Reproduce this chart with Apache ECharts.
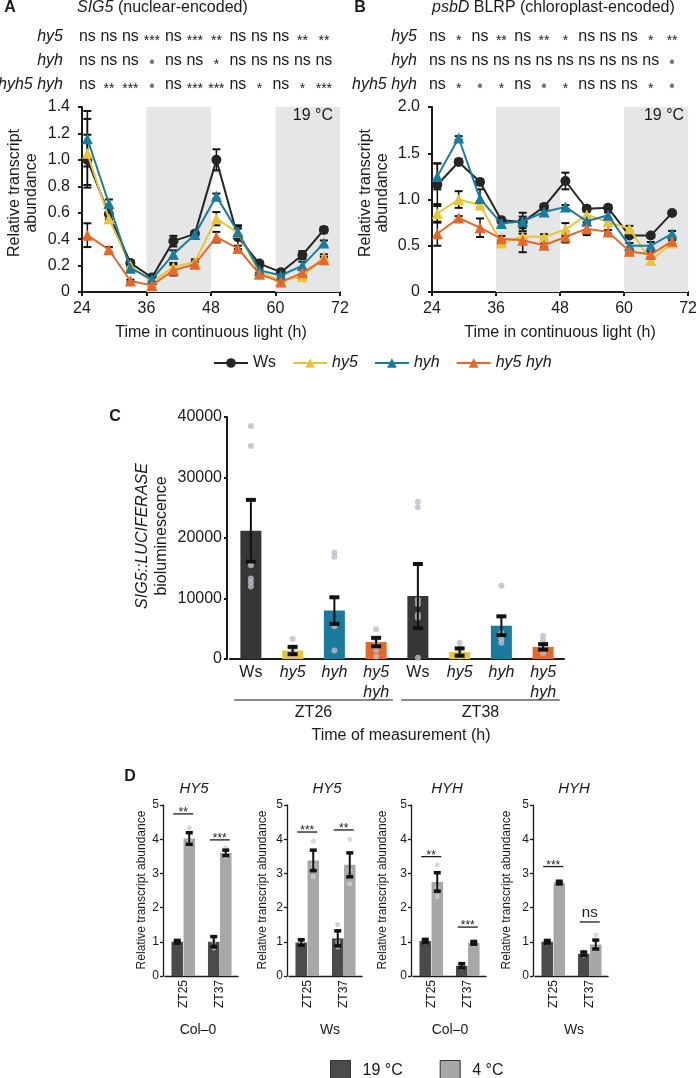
<!DOCTYPE html>
<html><head><meta charset="utf-8">
<script src="https://cdn.jsdelivr.net/npm/echarts@6/dist/echarts.min.js"></script>
<style>html,body{margin:0;padding:0;background:#fff}#c{width:700px;height:1078px}</style>
</head><body><div id="c"></div>
<script>
const FONT = '"Liberation Sans", Arial, Helvetica, sans-serif';
const INK = '#1a1a1a';

// ---------- Panels A & B ----------
const hoursAB = [25, 29, 33, 37, 41, 45, 49, 53, 57, 61, 65, 69];
const darkPeriods = [[36, 48], [60, 72]];
const genotypes = ['Ws', 'hy5', 'hyh', 'hy5 hyh'];

const sig5Ws     = [1.0, 0.59, 0.22, 0.11, 0.385, 0.44, 1.0, 0.415, 0.215, 0.15, 0.28, 0.47];
const sig5WsErr  = [0.19, 0.04, 0.02, 0.02, 0.04, 0.02, 0.08, 0.09, 0.02, 0.02, 0.03, 0.02];
const sig5Hy5    = [1.05, 0.555, 0.2, 0.075, 0.19, 0.227, 0.555, 0.45, 0.15, 0.09, 0.115, 0.265];
const sig5Hy5Err = [0.26, 0.03, 0.02, 0.02, 0.03, 0.02, 0.05, 0.03, 0.02, 0.02, 0.02, 0.02];
const sig5Hyh    = [1.16, 0.67, 0.18, 0.095, 0.285, 0.435, 0.725, 0.455, 0.165, 0.125, 0.2, 0.37];
const sig5HyhErr = [0.21, 0.03, 0.02, 0.02, 0.03, 0.02, 0.02, 0.04, 0.02, 0.02, 0.03, 0.02];
const sig5Dbl    = [0.43, 0.32, 0.083, 0.05, 0.165, 0.21, 0.415, 0.33, 0.135, 0.075, 0.145, 0.245];
const sig5DblErr = [0.09, 0.02, 0.01, 0.01, 0.04, 0.02, 0.04, 0.02, 0.01, 0.01, 0.02, 0.02];

const psbWs     = [1.16, 1.405, 1.19, 0.775, 0.757, 0.92, 1.2, 0.9, 0.91, 0.61, 0.61, 0.855];
const psbWsErr  = [0.23, 0.03, 0.03, 0.03, 0.1, 0.03, 0.09, 0.03, 0.03, 0.02, 0.02, 0.02];
const psbHy5    = [0.85, 1.0, 0.94, 0.53, 0.6, 0.595, 0.675, 0.835, 0.757, 0.685, 0.34, 0.53];
const psbHy5Err = [0.1, 0.09, 0.04, 0.03, 0.03, 0.03, 0.07, 0.04, 0.03, 0.03, 0.04, 0.03];
const psbHyh    = [1.25, 1.665, 1.01, 0.74, 0.765, 0.865, 0.92, 0.765, 0.83, 0.5, 0.5, 0.63];
const psbHyhErr = [0.14, 0.02, 0.1, 0.04, 0.05, 0.03, 0.02, 0.03, 0.03, 0.03, 0.04, 0.03];
const psbDbl    = [0.63, 0.8, 0.695, 0.575, 0.56, 0.505, 0.595, 0.685, 0.65, 0.44, 0.405, 0.55];
const psbDblErr = [0.13, 0.02, 0.1, 0.03, 0.13, 0.02, 0.06, 0.07, 0.02, 0.02, 0.03, 0.03];

const statsA_hy5 = ['ns','ns','ns','***','ns','***','**','ns','ns','ns','**','**'];
const statsA_hyh = ['ns','ns','ns','*','ns','ns','*','ns','ns','ns','ns','ns'];
const statsA_dbl = ['ns','**','***','*','ns','***','***','ns','*','ns','*','***'];
const statsB_hy5 = ['ns','*','ns','**','ns','**','*','ns','ns','ns','*','**'];
const statsB_hyh = ['ns','ns','ns','ns','ns','ns','ns','ns','ns','ns','ns','*'];
const statsB_dbl = ['ns','*','*','*','ns','*','*','ns','ns','ns','*','*'];
const statRowLabels = ['hy5', 'hyh', 'hyh5 hyh'];

// ---------- Panel C ----------
const catsC = ['Ws', 'hy5', 'hyh', 'hy5 hyh', 'Ws', 'hy5', 'hyh', 'hy5 hyh'];
const lucMean = [21200, 1400, 8000, 2800, 10400, 1150, 5500, 2000];
const lucErr  = [5100, 600, 2200, 700, 5300, 600, 1550, 450];
const lucPoints = [
  [38500, 35200, 16000, 15500, 13300, 12700, 12000],
  [3300, 1900, 1500, 900, 600],
  [17600, 16900, 5400, 1400],
  [4900, 3300, 2500, 1500, 400],
  [26000, 25100, 9800, 9100, 7300, 6800, 200],
  [2700, 1800, 900, 400],
  [12100, 4300, 4000, 3300, 2700],
  [3850, 3100, 2500, 1800, 1000]
];
const timeGroupsC = ['ZT26', 'ZT38'];

// ---------- Panel D ----------
const dGenes = ['HY5', 'HY5', 'HYH', 'HYH'];
const dBackgrounds = ['Col–0', 'Ws', 'Col–0', 'Ws'];
const dTimes = ['ZT25', 'ZT37'];
const d19Mean = [[1.0, 1.0], [0.98, 1.1], [1.02, 0.3], [1.0, 0.65]];
const d19Err  = [[0.04, 0.15], [0.08, 0.22], [0.05, 0.06], [0.04, 0.05]];
const d4Mean  = [[4.02, 3.6], [3.38, 3.25], [2.75, 0.97], [2.73, 0.92]];
const d4Err   = [[0.17, 0.08], [0.3, 0.35], [0.27, 0.04], [0.04, 0.13]];
const d19Pts = [[[1.03, 1.0, 0.98], [1.15, 1.0, 0.82]], [[1.05, 0.95, 0.92], [1.5, 1.0, 0.85]],
                [[1.05, 1.0, 0.98], [0.35, 0.28, 0.25]], [[1.02, 0.98, 0.97], [0.7, 0.62, 0.6]]];
const d4Pts  = [[[4.33, 3.95, 3.85], [3.75, 3.55, 3.5]], [[3.95, 3.25, 2.9], [4.0, 3.1, 2.7]],
                [[3.25, 2.6, 2.32], [1.0, 0.97, 0.93]], [[2.76, 2.72, 2.7], [1.2, 0.85, 0.8]]];
const dSigText  = [['**', '***'], ['***', '**'], ['**', '***'], ['***', 'ns']];
const dSigLevel = [[4.74, 3.98], [4.21, 4.27], [3.49, 1.43], [3.2, 1.58]];
const tempNames = ['19 °C', '4 °C'];

// ---------- styling ----------
const colWs = '#262626', colHy5 = '#e9c53e', colHyh = '#1b7b9e', colDbl = '#e2692b';
const genoColors = [colWs, colHy5, colHyh, colDbl];
const genoSymbols = ['circle', 'triangle', 'triangle', 'triangle'];
const col19 = '#4b4b4b', col4 = '#a7a7a7';

const chart = echarts.init(document.getElementById('c'), null, {renderer: 'canvas'});

const grids = [
  {left: 82, top: 107, width: 258, height: 185},
  {left: 432, top: 107, width: 260, height: 185},
  {left: 230, top: 417, width: 334, height: 242}
];
const dAxisX = [163, 287, 411, 533];
dAxisX.forEach(x => grids.push({left: x + 2, top: 805, width: 73, height: 171}));

function axisCommon(lw, size) {
  return {
    axisLine: {show: true, lineStyle: {color: INK, width: lw}},
    axisTick: {show: true, length: 4, lineStyle: {color: INK, width: lw}},
    splitLine: {show: false},
    axisLabel: {color: INK, fontSize: size, fontFamily: FONT}
  };
}
const xAxes = [], yAxes = [];
[0, 1].forEach(g => {
  const xa = axisCommon(2, 16);
  Object.assign(xa, {type: 'value', gridIndex: g, min: 24, max: 72, interval: 12,
    name: 'Time in continuous light (h)', nameLocation: 'middle', nameGap: 33,
    nameTextStyle: {color: INK, fontSize: 16, fontFamily: FONT}});
  xa.axisLabel.margin = 9;
  xAxes.push(xa);
  const ya = axisCommon(2, 16);
  Object.assign(ya, {type: 'value', gridIndex: g, min: 0, max: g === 0 ? 1.4 : 2.0, interval: g === 0 ? 0.2 : 0.5});
  ya.axisLabel.margin = 12;
  ya.axisLabel.formatter = v => (Math.abs(v) < 1e-9 ? '0' : v.toFixed(1));
  yAxes.push(ya);
});
// C
(function () {
  const xa = axisCommon(2, 16);
  Object.assign(xa, {type: 'category', gridIndex: 2, data: catsC});
  xa.axisTick = {show: false};
  xa.axisLabel = {interval: 0, margin: 4, color: INK, fontSize: 16, fontFamily: FONT, lineHeight: 20,
    formatter: v => v === 'Ws' ? v : v.split(' ').map(s => '{i|' + s + '}').join('\n'),
    rich: {i: {fontStyle: 'italic', fontSize: 16, fontFamily: FONT, color: INK, lineHeight: 20}}};
  xAxes.push(xa);
  const ya = axisCommon(2, 16);
  Object.assign(ya, {type: 'value', gridIndex: 2, min: 0, max: 40000, interval: 10000, offset: 3});
  ya.axisTick.length = 3;
  ya.axisLabel.margin = 5;
  ya.axisLabel.formatter = v => String(Math.round(v));
  yAxes.push(ya);
})();
// D
dAxisX.forEach((x, k) => {
  const g = 3 + k;
  const xa = axisCommon(1.3, 12);
  Object.assign(xa, {type: 'category', gridIndex: g, data: dTimes});
  xa.axisTick = {show: false};
  xa.axisLabel.rotate = 90;
  xa.axisLabel.margin = 4;
  xa.axisLabel.interval = 0;
  xAxes.push(xa);
  const ya = axisCommon(1.3, 12);
  Object.assign(ya, {type: 'value', gridIndex: g, min: 0, max: 5, interval: 1, offset: 2});
  ya.axisTick.length = 3;
  ya.axisLabel.margin = 4;
  yAxes.push(ya);
});

// error bar renderer
function errSeries(axisIdx, items, capHalf, lw, capLw, z) {
  return {
    type: 'custom', name: '_err', xAxisIndex: axisIdx, yAxisIndex: axisIdx, data: items, z: z,
    silent: true, animation: false,
    renderItem(params, api) {
      const x = api.value(0), y = api.value(1), e = api.value(2), dx = api.value(3) || 0;
      const top = api.coord([x, y + e]), bot = api.coord([x, Math.max(y - e, 0)]);
      const cx = top[0] + dx;
      return {type: 'group', children: [
        {type: 'line', shape: {x1: cx, y1: top[1], x2: cx, y2: bot[1]}, style: {stroke: '#111', lineWidth: lw}},
        {type: 'line', shape: {x1: cx - capHalf, y1: top[1], x2: cx + capHalf, y2: top[1]}, style: {stroke: '#111', lineWidth: capLw}},
        {type: 'line', shape: {x1: cx - capHalf, y1: bot[1], x2: cx + capHalf, y2: bot[1]}, style: {stroke: '#111', lineWidth: capLw}}
      ]};
    }
  };
}

const series = [];
const panelData = [
  [[sig5Ws, sig5WsErr], [sig5Hy5, sig5Hy5Err], [sig5Hyh, sig5HyhErr], [sig5Dbl, sig5DblErr]],
  [[psbWs, psbWsErr], [psbHy5, psbHy5Err], [psbHyh, psbHyhErr], [psbDbl, psbDblErr]]
];
[0, 1].forEach(g => {
  series.push({type: 'line', name: '_shade', xAxisIndex: g, yAxisIndex: g, data: [], z: 0, silent: true,
    markArea: {silent: true, itemStyle: {color: '#e6e6e6'},
      data: darkPeriods.map(p => [{xAxis: p[0]}, {xAxis: p[1]}])}});
  const errItems = [];
  panelData[g].forEach(([vals, errs]) => vals.forEach((v, i) => errItems.push([hoursAB[i], v, errs[i], 0])));
  series.push(errSeries(g, errItems, 4, 1.5, 2, 1));
  panelData[g].forEach(([vals], si) => {
    series.push({type: 'line', name: genotypes[si], xAxisIndex: g, yAxisIndex: g,
      data: vals.map((v, i) => [hoursAB[i], v]), symbol: genoSymbols[si], symbolSize: si === 0 ? 10 : 11,
      lineStyle: {color: genoColors[si], width: 2}, itemStyle: {color: genoColors[si]}, z: 3 + si, animation: false});
  });
});

// C
series.push({type: 'bar', name: '_lucBar', xAxisIndex: 2, yAxisIndex: 2, barWidth: 21, z: 2, animation: false,
  data: lucMean.map((v, i) => ({value: v, itemStyle: {color: genoColors[i % 4] === colWs ? '#363636' : genoColors[i % 4]}}))});
const lucPts = [];
lucPoints.forEach((arr, i) => arr.forEach(v => lucPts.push([i, v])));
series.push({type: 'scatter', name: '_lucPts', xAxisIndex: 2, yAxisIndex: 2, data: lucPts, symbolSize: 6,
  itemStyle: {color: '#bdbdcb'}, z: 3, animation: false, silent: true});
series.push(errSeries(2, lucMean.map((v, i) => [i, v, lucErr[i], 0]), 5, 2, 4, 4));

// D
const dOff = 6;
dAxisX.forEach((x, k) => {
  const ax = 3 + k;
  series.push({type: 'bar', name: tempNames[0], xAxisIndex: ax, yAxisIndex: ax, data: d19Mean[k], barWidth: 11.5,
    barGap: '5%', itemStyle: {color: col19}, z: 2, animation: false});
  series.push({type: 'bar', name: tempNames[1], xAxisIndex: ax, yAxisIndex: ax, data: d4Mean[k], barWidth: 11.5,
    barGap: '5%', itemStyle: {color: col4}, z: 2, animation: false});
  const p19 = [], p4 = [];
  d19Pts[k].forEach((arr, i) => arr.forEach(v => p19.push([i, v])));
  d4Pts[k].forEach((arr, i) => arr.forEach(v => p4.push([i, v])));
  series.push({type: 'scatter', name: '_p19', xAxisIndex: ax, yAxisIndex: ax, data: p19, symbolSize: 5,
    symbolOffset: [-dOff, 0], itemStyle: {color: '#c4c4c4'}, z: 3, silent: true, animation: false});
  series.push({type: 'scatter', name: '_p4', xAxisIndex: ax, yAxisIndex: ax, data: p4, symbolSize: 5,
    symbolOffset: [dOff, 0], itemStyle: {color: '#d0d0d0'}, z: 3, silent: true, animation: false});
  const errs = [];
  d19Mean[k].forEach((v, i) => errs.push([i, v, d19Err[k][i], -dOff]));
  d4Mean[k].forEach((v, i) => errs.push([i, v, d4Err[k][i], dOff]));
  series.push(errSeries(ax, errs, 3.5, 2, 3.5, 4));
  series.push({type: 'custom', name: '_sig', xAxisIndex: ax, yAxisIndex: ax, silent: true, animation: false, z: 5,
    data: dSigLevel[k].map((lv, i) => [i, lv]),
    renderItem(params, api) {
      const c = api.coord([api.value(0), api.value(1)]);
      const lbl = dSigText[k][params.dataIndex];
      const isNs = lbl === 'ns';
      return {type: 'group', children: [
        {type: 'line', shape: {x1: c[0] - 10, y1: c[1], x2: c[0] + 10, y2: c[1]}, style: {stroke: INK, lineWidth: 1.3}},
        {type: 'text', x: c[0], y: isNs ? c[1] - 9 : c[1] - 1,
          style: {text: lbl, fill: INK, fontSize: isNs ? 15 : 12, fontFamily: FONT, align: 'center', verticalAlign: 'middle'}}
      ]};
    }});
});

const option = {
  backgroundColor: '#fff',
  animation: false,
  grid: grids,
  xAxis: xAxes,
  yAxis: yAxes,
  legend: [
    {data: genotypes, left: 208, top: 350, itemWidth: 34, itemHeight: 12, itemGap: 16,
     textStyle: {fontSize: 16, color: INK, fontFamily: FONT,
       rich: {i: {fontStyle: 'italic', fontSize: 16, fontFamily: FONT, color: INK}}},
     formatter: n => n === 'Ws' ? n : '{i|' + n + '}', selectedMode: false},
    {data: tempNames, left: 325, top: 1055, itemWidth: 20, itemHeight: 20, itemGap: 37, icon: 'rect',
     itemStyle: {borderColor: '#333', borderWidth: 1},
     textStyle: {fontSize: 16, color: INK, fontFamily: FONT, padding: [0, 0, 0, 7]}, selectedMode: false}
  ],
  series: series
};
chart.setOption(option);

// ---------- text annotations ----------
function txt(x, y, text, o) {
  o = o || {};
  const size = o.size || 16;
  return {type: 'text', x: x, y: y, rotation: o.rot || 0, silent: true, z: 10,
    style: {text: text, fill: INK, fontFamily: FONT, fontSize: size,
      fontWeight: o.bold ? 'bold' : 'normal', fontStyle: o.italic ? 'italic' : 'normal',
      align: o.align || 'center', verticalAlign: 'middle', lineHeight: o.lh || size * 1.2,
      rich: {i: {fontStyle: 'italic', fontSize: size, fontFamily: FONT, fill: INK, lineHeight: o.lh || size * 1.2},
             n: {fontSize: size, fontFamily: FONT, fill: INK, lineHeight: o.lh || size * 1.2}}}};
}
const G = [];
G.push(txt(10, 8, 'A', {bold: true, size: 16}));
G.push(txt(77, 8, '{i|SIG5} (nuclear-encoded)', {align: 'left'}));
G.push(txt(360, 8, 'B', {bold: true, size: 16}));
G.push(txt(432, 8, '{i|psbD} BLRP (chloroplast-encoded)', {align: 'left'}));
const rowY = [37, 61, 85];
const statSets = [[statsA_hy5, statsA_hyh, statsA_dbl], [statsB_hy5, statsB_hyh, statsB_dbl]];
const labelRight = [63, 417];
[0, 1].forEach(g => {
  statRowLabels.forEach((lb, r) => G.push(txt(labelRight[g], rowY[r], lb, {italic: true, align: 'right'})));
  statSets[g].forEach((row, r) => row.forEach((s, i) => {
    const px = chart.convertToPixel({xAxisIndex: g}, hoursAB[i]);
    const isNs = s === 'ns';
    G.push(txt(px, rowY[r] + (isNs ? 0 : 4), s, {size: isNs ? 16 : 14}));
  }));
  const right = chart.convertToPixel({xAxisIndex: g}, 72);
  G.push(txt(right - (g === 0 ? 7 : 4), 116, '19 °C', {align: 'right'}));
});
G.push(txt(23, 193, 'Relative transcript\nabundance', {rot: Math.PI / 2, lh: 17}));
G.push(txt(374, 193, 'Relative transcript\nabundance', {rot: Math.PI / 2, lh: 17}));

// C
G.push(txt(115, 417, 'C', {bold: true}));
G.push(txt(152, 536, '{i|SIG5::LUCIFERASE}\n{n|bioluminescence}', {rot: Math.PI / 2, lh: 19}));
const bandC = 334 / catsC.length;
timeGroupsC.forEach((lab, gI) => {
  const a = chart.convertToPixel({xAxisIndex: 2}, gI * 4);
  const b = chart.convertToPixel({xAxisIndex: 2}, gI * 4 + 3);
  const x1 = a - bandC * 0.4, x2 = b + bandC * 0.4;
  G.push({type: 'line', silent: true, shape: {x1: x1, y1: 700, x2: x2, y2: 700}, style: {stroke: INK, lineWidth: 1.2}});
  G.push(txt((x1 + x2) / 2, 713, lab));
});
const cA = chart.convertToPixel({xAxisIndex: 2}, 0), cB = chart.convertToPixel({xAxisIndex: 2}, 7);
G.push(txt((cA + cB) / 2 + 4, 736, 'Time of measurement (h)'));

// D
G.push(txt(130, 777, 'D', {bold: true}));
const dTitleX = [194, 327, 447, 574];
const dNameX = [142, 263, 383, 507];
const dBottomX = [198, 330, 450, 574];
dGenes.forEach((gname, k) => {
  G.push(txt(dTitleX[k], 789, gname, {italic: true, size: 15}));
  G.push(txt(dNameX[k], 890, 'Relative transcript abundance', {rot: Math.PI / 2, size: 12}));
  G.push(txt(dBottomX[k], 1030, dBackgrounds[k], {size: 14}));
});
chart.setOption({graphic: {elements: G}});
</script></body></html>
